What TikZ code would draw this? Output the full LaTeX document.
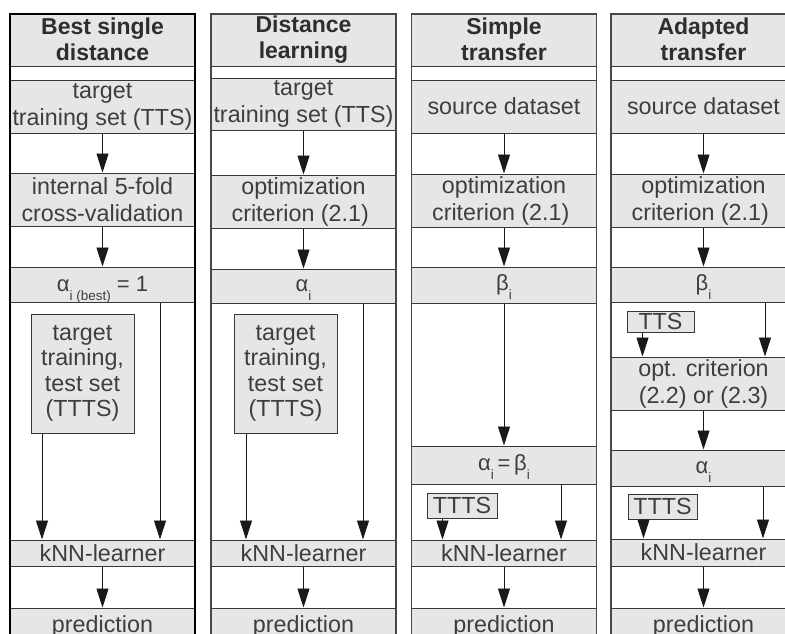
\documentclass[tikz,border=0pt]{standalone}
\usepackage{fontspec}
\setmainfont{Liberation Sans}
\usetikzlibrary{arrows.meta}
\definecolor{boxfill}{RGB}{230,230,230}
\definecolor{txt}{RGB}{62,62,62}
\definecolor{edge}{RGB}{55,55,55}
\newcommand{\sbs}[1]{\raisebox{-9pt}[0pt][0pt]{\fontsize{13.5}{13.5}\selectfont #1}}
\begin{document}
\begin{tikzpicture}[x=1pt,y=-1pt,
  box/.style={draw=edge, line width=1pt, fill=boxfill, text=txt, inner sep=0pt,
    minimum width=185pt, font=\fontsize{23.3}{27}\selectfont, align=center},
  gbox/.style={box, font=\fontsize{22}{24}\selectfont},
  hdr/.style={box, font=\fontsize{23}{26}\selectfont\bfseries, text=black!82},
  sbox/.style={draw=edge, line width=1pt, fill=boxfill, text=txt, inner sep=0pt,
    font=\fontsize{23.3}{25.5}\selectfont, align=center},
  arr/.style={draw=black!90, line width=0.9pt, -{Triangle[width=12pt,length=19pt]}},
  colframe/.style={draw=black!72, line width=1.6pt, inner sep=0pt, minimum width=185pt, minimum height=700pt},
]
\useasboundingbox (0,0) rectangle (785,633);
\clip (0,0) rectangle (785,633);

% ---------------- column 1 ----------------
\node[hdr, minimum height=53pt] (a0) at (102.5,39.5) {Best single\\distance};
\node[box, minimum height=53pt] (a1) at (102.5,106.5) {target\\training set (TTS)};
\node[box, minimum height=53pt] (a2) at (102.5,199.5) {internal 5-fold\\cross-validation};
\node[gbox, minimum height=35pt] (a3) at (102.5,284.5) {α\sbs{i (best)} = 1};
\node[sbox, minimum width=103pt, minimum height=119pt] (at) at (82.5,373.5) {target\\training,\\test set\\(TTTS)};
\node[box, minimum height=26pt] (ak) at (102.5,553) {kNN-learner};
\node[box, minimum height=36pt] (ap) at (102.5,626) {prediction};
\draw[arr] (a1) -- (a2);
\draw[arr] (a2) -- (a3);
\draw[arr] ([xshift=57.5pt]a3.south) -- ([xshift=57.5pt]ak.north);
\draw[arr] ([xshift=11.5pt]at.south west) -- ([xshift=11.5pt]at.south west |- ak.north);
\draw[arr] (ak) -- (ap);
\node[colframe, draw=black, line width=2.2pt, anchor=north] (col1) at (102.5,13) {};

% ---------------- column 2 ----------------
\node[hdr, minimum height=53pt] (b0) at (303.5,39.5) {Distance\\learning};
\node[box, minimum height=52pt] (b1) at (303.5,104) {target\\training set (TTS)};
\node[box, minimum height=53pt] (b2) at (303.5,201.5) {optimization\\criterion (2.1)\hphantom{.}};
\node[gbox, minimum height=34pt] (b3) at (303.5,286) {α\sbs{i}};
\node[sbox, minimum width=103pt, minimum height=119pt] (bt) at (285.5,373.5) {target\\training,\\test set\\(TTTS)};
\node[box, minimum height=26pt] (bk) at (303.5,553) {kNN-learner};
\node[box, minimum height=36pt] (bp) at (303.5,626) {prediction};
\draw[arr] (b1) -- (b2);
\draw[arr] (b2) -- (b3);
\draw[arr] ([xshift=59.5pt]b3.south) -- ([xshift=59.5pt]bk.north);
\draw[arr] ([xshift=12.5pt]bt.south west) -- ([xshift=12.5pt]bt.south west |- bk.north);
\draw[arr] (bk) -- (bp);
\node[colframe, anchor=north] (col2) at (303.5,13) {};

% ---------------- column 3 ----------------
\node[hdr, minimum height=53pt] (c0) at (504,39.5) {Simple\\transfer};
\node[box, minimum height=53pt] (c1) at (504,106.5) {source dataset};
\node[box, minimum height=53pt] (c2) at (504,200.5) {optimization\\criterion (2.1)\hphantom{.}};
\node[gbox, minimum height=36pt] (c3) at (504,285) {β\sbs{i}};
\node[gbox, minimum height=38pt] (c4) at (504,465) {α\sbs{i}\,=\,β\sbs{i}};
\node[sbox, minimum width=70pt, minimum height=25pt] (ct) at (462,505.5) {TTTS};
\node[box, minimum height=26pt] (ck) at (504,553) {kNN-learner};
\node[box, minimum height=36pt] (cp) at (504,626) {prediction};
\draw[arr] (c1) -- (c2);
\draw[arr] (c2) -- (c3);
\draw[arr] (c3) -- (c4);
\draw[arr] ([xshift=57pt]c4.south) -- ([xshift=57pt]ck.north);
\draw[arr] ([xshift=16pt]ct.south west) -- ([xshift=16pt]ct.south west |- ck.north);
\draw[arr] (ck) -- (cp);
\node[colframe, anchor=north] (col3) at (504,13) {};

% ---------------- column 4 ----------------
\node[hdr, minimum height=53pt] (d0) at (703.5,39.5) {Adapted\\transfer};
\node[box, minimum height=53pt] (d1) at (703.5,106.5) {source dataset};
\node[box, minimum height=53pt] (d2) at (703.5,200.5) {optimization\\criterion (2.1)\hphantom{.}};
\node[gbox, minimum height=35pt] (d3) at (703.5,284.5) {β\sbs{i}};
\node[sbox, minimum width=67pt, minimum height=21pt] (ds) at (660.5,321.5) {TTS};
\node[box, minimum height=53pt] (d4) at (703.5,383.5) {opt. criterion\\(2.2) or (2.3)};
\node[gbox, minimum height=36pt] (d5) at (703.5,468) {α\sbs{i}};
\node[sbox, minimum width=69pt, minimum height=25pt] (dt) at (662.5,506.5) {TTTS};
\node[box, minimum height=27pt] (dk) at (703.5,552.5) {kNN-learner};
\node[box, minimum height=36pt] (dp) at (703.5,626) {prediction};
\draw[arr] (d1) -- (d2);
\draw[arr] (d2) -- (d3);
\draw[arr] ([xshift=61.5pt]d3.south) -- ([xshift=61.5pt]d4.north);
\draw[arr] ([xshift=16pt]ds.south west) -- ([xshift=16pt]ds.south west |- d4.north);
\draw[arr] (d4) -- (d5);
\draw[arr] ([xshift=59.5pt]d5.south) -- ([xshift=59.5pt]dk.north);
\draw[arr] ([xshift=16pt]dt.south west) -- ([xshift=16pt]dt.south west |- dk.north);
\draw[arr] (dk) -- (dp);
\node[colframe, anchor=north] (col4) at (703.5,13) {};
\end{tikzpicture}
\end{document}
